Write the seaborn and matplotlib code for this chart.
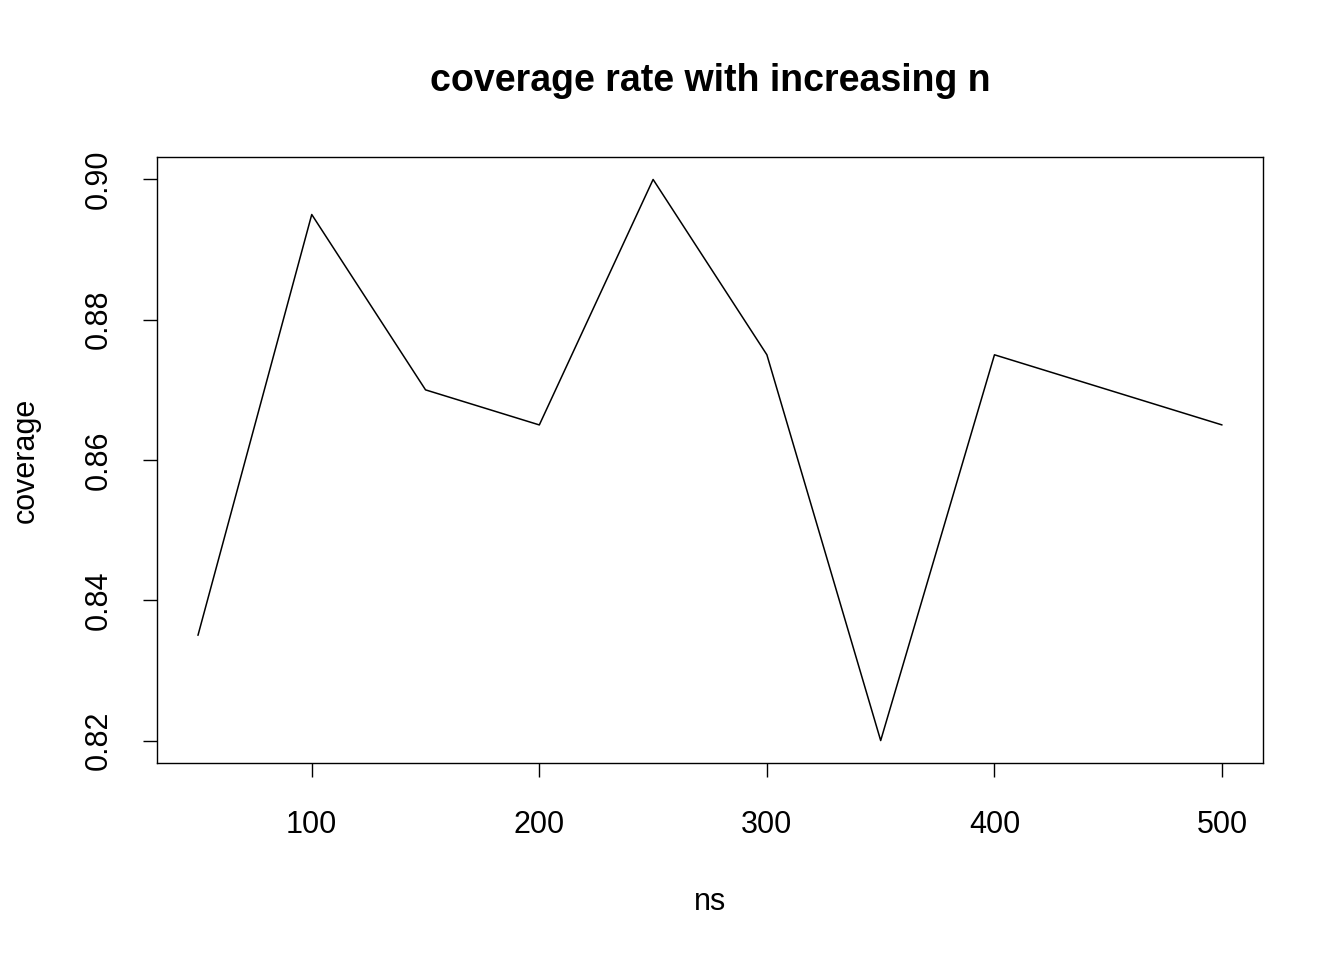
import matplotlib
matplotlib.use("Agg")
import matplotlib.pyplot as plt
import seaborn as sns
import pandas as pd

# values
ns = [50, 100, 150, 200, 250, 300, 350, 400, 450, 500]
coverage = [0.835, 0.895, 0.870, 0.865, 0.900, 0.875, 0.820, 0.875, 0.870, 0.865]
x_ticks = [100, 200, 300, 400, 500]
y_ticks = [0.82, 0.84, 0.86, 0.88, 0.90]

df = pd.DataFrame({"ns": ns, "coverage": coverage})

sns.set_style("white")
plt.rcParams["font.family"] = ["Liberation Sans", "DejaVu Sans"]
plt.rcParams["text.color"] = "black"
plt.rcParams["axes.labelcolor"] = "black"
plt.rcParams["xtick.color"] = "black"
plt.rcParams["ytick.color"] = "black"

fig = plt.figure(figsize=(13.44, 9.6), dpi=100)
ax = fig.add_axes([157 / 1344, 1 - 763 / 960, (1263 - 157) / 1344, (763 - 157) / 960])

sns.lineplot(data=df, x="ns", y="coverage", color="black", linewidth=1.1, ax=ax)

# R-style 4% padding
xr = max(ns) - min(ns)
yr = max(coverage) - min(coverage)
ax.set_xlim(min(ns) - 0.04 * xr, max(ns) + 0.04 * xr)
ax.set_ylim(min(coverage) - 0.04 * yr, max(coverage) + 0.04 * yr)

ax.set_xticks(x_ticks)
ax.set_xticklabels([str(t) for t in x_ticks])
ax.set_yticks(y_ticks)
ax.set_yticklabels([f"{t:.2f}" for t in y_ticks], rotation=90, va="center")
ax.tick_params(axis="both", direction="out", length=10, width=1, color="black",
               labelsize=22, left=True, bottom=True, labelcolor="black")
ax.tick_params(axis="x", pad=24)
ax.tick_params(axis="y", pad=21)

for s in ax.spines.values():
    s.set_color("black")
    s.set_linewidth(1)

ax.set_xlabel("ns", fontsize=22, labelpad=34, color="black")
ax.set_ylabel("coverage", fontsize=22, labelpad=31, color="black")
ax.grid(False)

fig.text((157 + 1263) / 2 / 1344, 1 - 81 / 960, "coverage rate with increasing n",
         ha="center", va="center", fontsize=27, fontweight="bold", color="black")

fig.savefig("out.png", dpi=100)
